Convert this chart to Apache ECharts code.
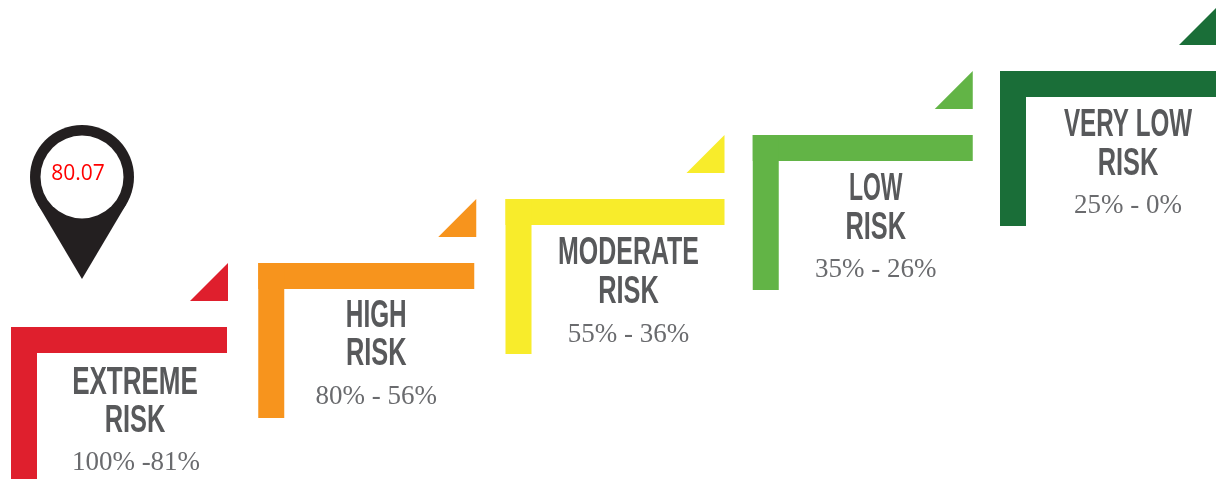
<!DOCTYPE html>
<html>
<head>
<meta charset="utf-8">
<style>html,body{margin:0;padding:0;background:#fff;overflow:hidden}#c{width:1216px;height:479px}</style>
<script src="https://cdn.jsdelivr.net/npm/echarts@6/dist/echarts.min.js"></script>
</head>
<body>
<div id="c"></div>
<script>
// ---- data ----
const stepIndex = [0, 1, 2, 3, 4];
const riskLine1 = ['EXTREME', 'HIGH', 'MODERATE', 'LOW', 'VERY LOW'];
const riskLine2 = ['RISK', 'RISK', 'RISK', 'RISK', 'RISK'];
const riskRanges = ['100% -81%', '80% - 56%', '55% - 36%', '35% - 26%', '25% - 0%'];
const pinStep = [0];
const pinValue = ['80.07'];

// ---- styles and layout (pixels relative to each step's corner) ----
const stepColors = ['#DF1F2D', '#F7941D', '#F8EC2B', '#62B446', '#1A6E38'];
const barLength = [216, 216, 219, 220, 240];
const triRight = [217, 218, 219, 220, 217];
const labelCenter = [124, 118, 123, 123, 128];
const rangeCenter = [125, 118, 123, 123, 128];
const line1Y = [56, 53, 54, 54, 54];
const line2Y = [94, 91, 93, 93, 93];
const rangeY = [136, 134, 136, 135, 135];
const line1Scale = [0.667, 0.624, 0.64, 0.59, 0.62];
const line2Scale = 0.65;
const BAR = 26, DROP = 155, TRI = 38;
const STEP_X = 247.25, STEP_Y = 64, ORIGIN_X = 11, ORIGIN_Y = 327;
const W = 1216, H = 479;
const TEXT = '#58595B', RANGE = '#6A6B6E';
const HEAD = 'bold 39px "Liberation Sans Narrow","Liberation Sans",sans-serif';
const SUB = '27px "Liberation Serif",serif';

function stepItem(params, api) {
  const i = api.value(0);
  const p = api.coord([api.value(0), api.value(1)]);
  const x = p[0], y = p[1], c = stepColors[i];
  const fill = { fill: c };
  const t = (text, cx, dy, font, fillC, sx) => ({
    type: 'text', x: x + cx, y: y + dy, scaleX: sx || 1,
    style: { text, font, fill: fillC, align: 'center', verticalAlign: 'middle' }
  });
  const r = triRight[i];
  return {
    type: 'group',
    children: [
      { type: 'rect', shape: { x, y, width: barLength[i], height: BAR }, style: fill },
      { type: 'rect', shape: { x, y, width: BAR, height: DROP }, style: fill },
      { type: 'polygon', shape: { points: [[x + r - TRI, y - BAR], [x + r, y - BAR], [x + r, y - BAR - TRI]] }, style: fill },
      t(riskLine1[i], labelCenter[i], line1Y[i], HEAD, TEXT, line1Scale[i]),
      t(riskLine2[i], labelCenter[i], line2Y[i], HEAD, TEXT, line2Scale),
      t(riskRanges[i], rangeCenter[i], rangeY[i], SUB, RANGE)
    ]
  };
}

function pinItem(params, api) {
  const p = api.coord([api.value(0), 0]);
  const cx = p[0] + 71, cy = p[1] - 150, R = 52, r = 41.5, tip = 102;
  const s = R / tip, co = Math.sqrt(1 - s * s);
  const dark = { fill: '#231F20' };
  return {
    type: 'group',
    children: [
      { type: 'circle', shape: { cx, cy, r: R }, style: dark },
      { type: 'polygon', shape: { points: [[cx - R * co, cy + R * s], [cx + R * co, cy + R * s], [cx, cy + tip]] }, style: dark },
      { type: 'circle', shape: { cx, cy, r }, style: { fill: '#fff' } },
      { type: 'text', x: cx - 4, y: cy - 3, style: { text: pinValue[params.dataIndex], font: '21px "Open Sans",sans-serif', fill: '#FF0000', align: 'center', verticalAlign: 'middle' } }
    ]
  };
}

const chart = echarts.init(document.getElementById('c'), null, { renderer: 'canvas' });
chart.setOption({
  animation: false,
  backgroundColor: '#fff',
  tooltip: { show: false },
  grid: { left: 0, right: 0, top: 0, bottom: 0 },
  xAxis: { type: 'value', show: false, min: -ORIGIN_X / STEP_X, max: (W - ORIGIN_X) / STEP_X },
  yAxis: { type: 'value', show: false, min: (ORIGIN_Y - H) / STEP_Y, max: ORIGIN_Y / STEP_Y },
  series: [
    { type: 'custom', coordinateSystem: 'cartesian2d', clip: false, silent: true, renderItem: stepItem,
      data: stepIndex.map(i => [i, i]) },
    { type: 'custom', coordinateSystem: 'cartesian2d', clip: false, silent: true, renderItem: pinItem,
      data: pinStep.map(i => [i, 0]) }
  ]
});
</script>
</body>
</html>
